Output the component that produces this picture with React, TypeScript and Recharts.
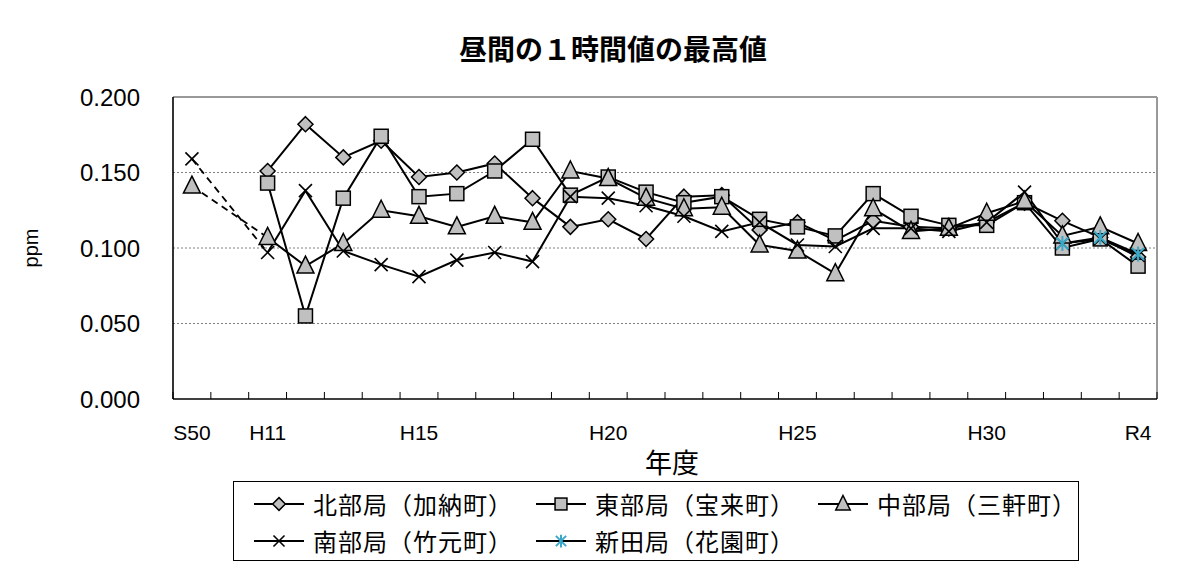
import React from "react";
import { LineChart, Line, XAxis, YAxis, ReferenceLine, Customized } from "recharts";

const categories = ["S50", "", "H11", "H12", "H13", "H14", "H15", "H16", "H17", "H18", "H19", "H20", "H21", "H22", "H23", "H24", "H25", "H26", "H27", "H28", "H29", "H30", "H31", "R2", "R3", "R4"];
const shownTickLabels = ["S50", "H11", "H15", "H20", "H25", "H30", "R4"];
const yTicks = [0, 0.05, 0.1, 0.15, 0.2];
const gridValues = [0.05, 0.1, 0.15];

const north = [null, null, 0.151, 0.182, 0.160, 0.171, 0.147, 0.150, 0.156, 0.133, 0.114, 0.119, 0.106, 0.134, 0.135, 0.112, 0.117, 0.105, 0.118, 0.114, 0.113, 0.117, 0.130, 0.118, 0.107, 0.094];
const east = [null, null, 0.143, 0.055, 0.133, 0.174, 0.134, 0.136, 0.151, 0.172, 0.135, 0.147, 0.137, 0.130, 0.134, 0.119, 0.114, 0.108, 0.136, 0.121, 0.115, 0.115, 0.130, 0.100, 0.106, 0.088];
const central = [0.141, null, 0.107, 0.088, 0.103, 0.125, 0.121, 0.114, 0.121, 0.117, 0.151, 0.146, 0.133, 0.126, 0.127, 0.102, 0.098, 0.083, 0.126, 0.111, 0.113, 0.123, 0.131, 0.108, 0.114, 0.103];
const south = [0.159, null, 0.097, 0.138, 0.098, 0.089, 0.081, 0.092, 0.097, 0.091, 0.134, 0.133, 0.128, 0.121, 0.111, 0.117, 0.102, 0.101, 0.113, 0.113, 0.111, 0.117, 0.137, 0.103, 0.106, 0.095];
const nitta = [null, null, null, null, null, null, null, null, null, null, null, null, null, null, null, null, null, null, null, null, null, null, null, 0.103, 0.107, 0.096];
const southDash = [0.159, null, 0.097, null, null, null, null, null, null, null, null, null, null, null, null, null, null, null, null, null, null, null, null, null, null, null];
const centralDash = [0.141, null, 0.107, null, null, null, null, null, null, null, null, null, null, null, null, null, null, null, null, null, null, null, null, null, null, null];

const seriesNames = {
  north: "北部局（加納町）",
  east: "東部局（宝来町）",
  central: "中部局（三軒町）",
  south: "南部局（竹元町）",
  nitta: "新田局（花園町）",
};

const data = categories.map((c, i) => ({
  idx: i,
  year: c,
  north: north[i],
  east: east[i],
  central: central[i],
  south: south[i],
  nitta: nitta[i],
  southDash: southDash[i],
  centralDash: centralDash[i],
}));

const FONT = '"Liberation Sans", Arial, "Noto Sans CJK JP", sans-serif';
const GRAY = "#c0c0c0";
const CYAN = "#3aa8c8";

type ShapeKind = "diamond" | "square" | "triangle" | "cross" | "asterisk";

function shape(kind: ShapeKind, cx: number, cy: number, s = 1, key?: any) {
  switch (kind) {
    case "diamond": {
      const r = 7.5 * s;
      return (
        <polygon key={key} points={`${cx},${cy - r} ${cx + r},${cy} ${cx},${cy + r} ${cx - r},${cy}`} fill={GRAY} stroke="#000" strokeWidth={1.5} />
      );
    }
    case "square": {
      const h = 7 * s;
      return <rect key={key} x={cx - h} y={cy - h} width={2 * h} height={2 * h} fill={GRAY} stroke="#000" strokeWidth={1.5} />;
    }
    case "triangle": {
      const w = 8.5 * s;
      return (
        <polygon key={key} points={`${cx},${cy - 10 * s} ${cx + w},${cy + 7 * s} ${cx - w},${cy + 7 * s}`} fill={GRAY} stroke="#000" strokeWidth={1.5} />
      );
    }
    case "cross": {
      const h = 6.5 * s;
      return (
        <g key={key}>
          <line x1={cx - h} y1={cy - h} x2={cx + h} y2={cy + h} stroke="#000" strokeWidth={1.6} />
          <line x1={cx - h} y1={cy + h} x2={cx + h} y2={cy - h} stroke="#000" strokeWidth={1.6} />
        </g>
      );
    }
    case "asterisk": {
      const h = 7.5 * s;
      const d = 6 * s;
      return (
        <g key={key}>
          <line x1={cx} y1={cy - h} x2={cx} y2={cy + h} stroke={CYAN} strokeWidth={2} />
          <line x1={cx - d} y1={cy - d} x2={cx + d} y2={cy + d} stroke={CYAN} strokeWidth={2} />
          <line x1={cx - d} y1={cy + d} x2={cx + d} y2={cy - d} stroke={CYAN} strokeWidth={2} />
        </g>
      );
    }
  }
}

const makeDot = (kind: ShapeKind) => (props: any) => {
  const { cx, cy, index, value } = props;
  if (cx == null || cy == null || value == null || Number.isNaN(cy)) return <g key={`e${index}`} />;
  return shape(kind, cx, cy, 1, `d${index}`);
};

const boundaryTicks = categories.map((_, i) => i - 0.5).concat([categories.length - 0.5]);
const labelTicks = shownTickLabels.map((l) => categories.indexOf(l));
const xTicks = [...boundaryTicks, ...labelTicks].sort((a, b) => a - b);

const XTick = (props: any) => {
  const { x, y, payload } = props;
  const v = payload.value;
  if (Number.isInteger(v)) {
    return (
      <text x={x} y={y + 41} textAnchor="middle" fontSize={21} fontFamily={FONT} fill="#000">
        {categories[v]}
      </text>
    );
  }
  return <line x1={x} x2={x} y1={y} y2={y - 7} stroke="#000" strokeWidth={1} />;
};

const Frame = () => (
  <path d="M6.5,600 L6.5,4.5 L1181.5,4.5 L1181.5,600" fill="none" stroke="#000" strokeWidth={1.5} />
);

const legendItems: { key: string; kind: ShapeKind }[][] = [
  [
    { key: "north", kind: "diamond" },
    { key: "east", kind: "square" },
    { key: "central", kind: "triangle" },
  ],
  [
    { key: "south", kind: "cross" },
    { key: "nitta", kind: "asterisk" },
  ],
];

export default function App() {
  return (
    <div style={{ position: "relative", width: 1186, height: 569, margin: -8, overflow: "hidden", background: "#fff", fontFamily: FONT }}>
      <div style={{ position: "absolute", left: 0, top: 0 }}>
        <LineChart width={1186} height={569} data={data} margin={{ top: 97, right: 29, bottom: 0, left: 113 }}>
          <Customized component={Frame} />
          <XAxis
            dataKey="idx"
            type="number"
            domain={[-0.5, categories.length - 0.5]}
            ticks={xTicks}
            interval={0}
            tickLine={false}
            tickSize={0}
            tickMargin={0}
            tick={<XTick />}
            axisLine={{ stroke: "#000", strokeWidth: 1.6 }}
            height={170}
            allowDataOverflow
          />
          <YAxis
            type="number"
            domain={[0, 0.2]}
            ticks={yTicks}
            interval={0}
            width={60}
            tickLine={false}
            tickSize={0}
            tickMargin={33}
            tickFormatter={(v: number) => v.toFixed(3)}
            tick={{ fontSize: 24, fill: "#000", fontFamily: FONT }}
            axisLine={{ stroke: "#000", strokeWidth: 1.6 }}
          />
          {gridValues.map((g) => (
            <ReferenceLine key={g} y={g} stroke="#808080" strokeDasharray="2 2" strokeWidth={1} />
          ))}
          <ReferenceLine y={0.2} stroke="#999" strokeWidth={2} />
          <ReferenceLine x={categories.length - 0.5} stroke="#999" strokeWidth={2} />
          <Line dataKey="southDash" stroke="#000" strokeWidth={1.8} strokeDasharray="7 5" dot={false} connectNulls isAnimationActive={false} legendType="none" />
          <Line dataKey="centralDash" stroke="#000" strokeWidth={1.8} strokeDasharray="7 5" dot={false} connectNulls isAnimationActive={false} legendType="none" />
          <Line dataKey="north" name={seriesNames.north} stroke="#000" strokeWidth={2} dot={makeDot("diamond")} isAnimationActive={false} />
          <Line dataKey="east" name={seriesNames.east} stroke="#000" strokeWidth={2} dot={makeDot("square")} isAnimationActive={false} />
          <Line dataKey="central" name={seriesNames.central} stroke="#000" strokeWidth={2} dot={makeDot("triangle")} isAnimationActive={false} />
          <Line dataKey="south" name={seriesNames.south} stroke="#000" strokeWidth={2} dot={makeDot("cross")} isAnimationActive={false} />
          <Line dataKey="nitta" name={seriesNames.nitta} stroke="#000" strokeWidth={2} dot={makeDot("asterisk")} isAnimationActive={false} />
        </LineChart>
      </div>
      <div style={{ position: "absolute", left: 0, width: 1226, top: 30, textAlign: "center", fontSize: 28, fontWeight: "bold", fontFamily: '"Noto Sans CJK JP", sans-serif', lineHeight: "36px" }}>
        昼間の１時間値の最高値
      </div>
      <div style={{ position: "absolute", left: 612, width: 120, top: 444, textAlign: "center", fontSize: 27, fontFamily: '"Noto Sans CJK JP", sans-serif', lineHeight: "36px" }}>
        年度
      </div>
      <div style={{ position: "absolute", left: 31, top: 248, transform: "translate(-50%, -50%) rotate(-90deg)", fontSize: 20, fontFamily: FONT, whiteSpace: "nowrap" }}>
        ppm
      </div>
      <div style={{ position: "absolute", left: 233, top: 481, width: 846, height: 80, border: "1px solid #000", boxSizing: "border-box", background: "#fff" }}>
        {legendItems.map((row, r) =>
          row.map((item, c) => (
            <div key={item.key} style={{ position: "absolute", left: 20 + c * 282, top: r === 0 ? 7 : 44, height: 30, display: "flex", alignItems: "center" }}>
              <svg width={50} height={24}>
                <line x1={0} x2={50} y1={12} y2={12} stroke="#000" strokeWidth={2} />
                {shape(item.kind, 25, 12, 0.85)}
              </svg>
              <span style={{ marginLeft: 9, fontSize: 24, letterSpacing: 1, fontFamily: '"Noto Sans CJK JP", sans-serif', whiteSpace: "nowrap", lineHeight: "30px" }}>
                {(seriesNames as any)[item.key]}
              </span>
            </div>
          ))
        )}
      </div>
    </div>
  );
}
